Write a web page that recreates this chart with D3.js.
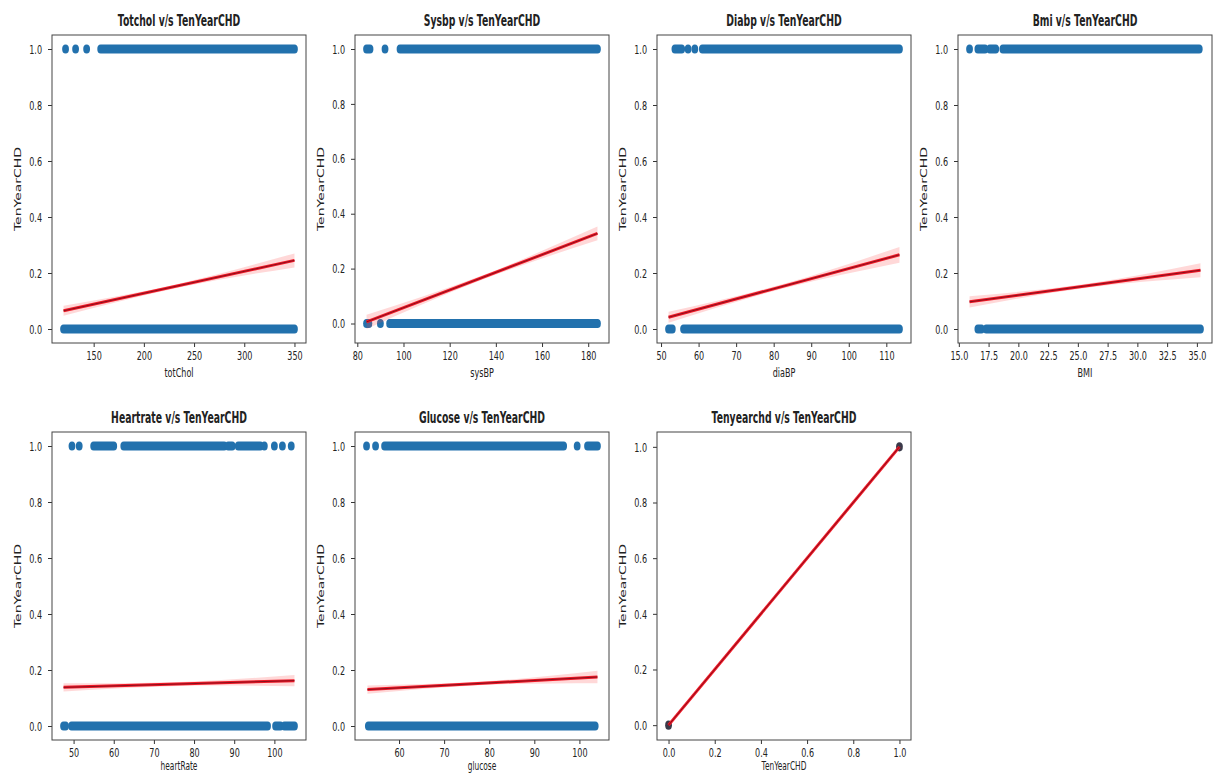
<!DOCTYPE html>
<html>
<head>
<meta charset="utf-8">
<script src="https://cdn.jsdelivr.net/npm/d3@7"></script>
<style>
  body { margin: 0; background: #fff; }
  text { font-family: "DejaVu Sans", sans-serif; fill: #222; }
</style>
</head>
<body>
<svg id="chart" width="1219" height="774"></svg>
<script>
// ---- data ----
const panelTitles = ["Totchol v/s TenYearCHD", "Sysbp v/s TenYearCHD", "Diabp v/s TenYearCHD", "Bmi v/s TenYearCHD",
                     "Heartrate v/s TenYearCHD", "Glucose v/s TenYearCHD", "Tenyearchd v/s TenYearCHD"];
const xLabels = ["totChol", "sysBP", "diaBP", "BMI", "heartRate", "glucose", "TenYearCHD"];
const yLabel = "TenYearCHD";

// x ticks per panel
const xTicks = [
  [150, 200, 250, 300, 350],
  [80, 100, 120, 140, 160, 180],
  [50, 60, 70, 80, 90, 100, 110],
  [15, 17.5, 20, 22.5, 25, 27.5, 30, 32.5, 35],
  [50, 60, 70, 80, 90, 100],
  [60, 70, 80, 90, 100],
  [0, 0.2, 0.4, 0.6, 0.8, 1.0]
];
const xTickFmt = [",d", ",d", ",d", ".1f", ",d", ",d", ".1f"];
const yTicks = [0, 0.2, 0.4, 0.6, 0.8, 1.0];

// point clusters [from, to] at TenYearCHD = 1 and = 0 (single points have from == to)
const ones = [
  [[122, 122], [132, 132], [143, 143], [157, 350]],
  [[84, 85.5], [92, 92], [98.5, 184]],
  [[53.7, 55.5], [57.2, 57.2], [59, 59], [61, 113.5]],
  [[15.9, 15.9], [16.6, 17.2], [17.6, 18.1], [18.7, 35.2]],
  [[49.6, 49.6], [51.4, 51.4], [55, 60], [62.5, 87.5], [88.5, 89.5], [91, 96.5], [97.5, 97.5], [100, 100], [102, 102], [104.2, 104.2]],
  [[52.8, 52.8], [54.8, 54.8], [56.8, 96.5], [99.5, 99.5], [101.8, 104]],
  [[1, 1]]
];
const zeros = [
  [[120, 350]],
  [[84, 85], [90, 90], [94, 184]],
  [[52, 53], [56, 113.5]],
  [[16.6, 16.9], [17.3, 35.3]],
  [[47.5, 48], [49.5, 98.3], [100.3, 101.5], [102.5, 105]],
  [[53.2, 103.5]],
  [[0, 0]]
];

// fitted line [x0, y0, x1, y1]
const regLines = [
  [120, 0.065, 350, 0.245],
  [84, 0.006, 184, 0.328],
  [52, 0.042, 113.5, 0.265],
  [15.9, 0.097, 35.3, 0.21],
  [47.5, 0.138, 105, 0.162],
  [53, 0.13, 104, 0.175],
  [0, 0, 1, 1]
];
// confidence band half-width at left, middle, right
const ciHalf = [
  [0.018, 0.007, 0.025],
  [0.026, 0.008, 0.025],
  [0.02, 0.008, 0.028],
  [0.02, 0.007, 0.025],
  [0.015, 0.007, 0.02],
  [0.015, 0.006, 0.022],
  [0.003, 0.002, 0.003]
];

// ---- layout ----
const svg = d3.select("#chart");
const colX = [52, 355, 657, 958];
const rowY = [35, 432];
const boxW = 254, boxH = 308;
const sx = 0.62;        // glyphs in the picture are squeezed sideways
const r = 4.6, rxPt = 3.4;

function pad(ext) {
  let span = ext[1] - ext[0];
  return [ext[0] - span * 0.05, ext[1] + span * 0.05];
}

panelTitles.forEach((title, i) => {
  let col = i % 4, row = Math.floor(i / 4);
  let g = svg.append("g").attr("transform", "translate(" + colX[col] + "," + rowY[row] + ")");

  let allX = ones[i].concat(zeros[i]).flat();
  let xScale = d3.scaleLinear().domain(pad(d3.extent(allX))).range([0, boxW]);

  let L = regLines[i], h = ciHalf[i];
  let xm = (L[0] + L[2]) / 2, ym = (L[1] + L[3]) / 2;
  let band = [
    {x: L[0], lo: L[1] - h[0], hi: L[1] + h[0]},
    {x: xm, lo: ym - h[1], hi: ym + h[1]},
    {x: L[2], lo: L[3] - h[2], hi: L[3] + h[2]}
  ];
  let yExt = [Math.min(0, d3.min(band, d => d.lo)), Math.max(1, d3.max(band, d => d.hi))];
  let yScale = d3.scaleLinear().domain(pad(yExt)).range([boxH, 0]);

  // points
  let ptColor = i === 6 ? "#3a3a4a" : "#2271ad";
  let strips = ones[i].map(c => ({c: c, y: 1})).concat(zeros[i].map(c => ({c: c, y: 0})));
  g.selectAll(".pt").data(strips).enter().append("rect")
    .attr("class", "pt")
    .attr("x", d => xScale(d.c[0]) - rxPt)
    .attr("width", d => xScale(d.c[1]) - xScale(d.c[0]) + 2 * rxPt)
    .attr("y", d => yScale(d.y) - r)
    .attr("height", 2 * r)
    .attr("rx", rxPt).attr("ry", r)
    .attr("fill", ptColor);

  // confidence band
  let area = d3.area().x(d => xScale(d.x)).y0(d => yScale(d.lo)).y1(d => yScale(d.hi)).curve(d3.curveNatural);
  g.append("path").datum(band).attr("d", area).attr("fill", "#ff3b3b").attr("opacity", 0.2);

  // fitted line
  let seg = [[L[0], L[1]], [L[2], L[3]]];
  let line = d3.line().x(d => xScale(d[0])).y(d => yScale(d[1]));
  g.append("path").datum(seg).attr("d", line).attr("stroke", "#f01826").attr("stroke-width", 3).attr("fill", "none");
  g.append("path").datum(seg).attr("d", line).attr("stroke", "#7a0f1c").attr("stroke-width", 0.9).attr("fill", "none");

  // axes
  let xAxis = d3.axisBottom(xScale).tickValues(xTicks[i]).tickFormat(d3.format(xTickFmt[i])).tickSize(4).tickSizeOuter(0).tickPadding(4);
  let gx = g.append("g").attr("transform", "translate(0," + boxH + ")").call(xAxis);
  gx.select(".domain").remove();
  gx.selectAll("line").attr("stroke", "#333");
  gx.selectAll("text").attr("transform", "scale(" + sx + ",1)")
    .style("font-size", "13px").style("font-family", "DejaVu Sans").attr("fill", "#222");

  let yAxis = d3.axisLeft(yScale).tickValues(yTicks).tickFormat(d3.format(".1f")).tickSize(4).tickSizeOuter(0);
  let gy = g.append("g").call(yAxis);
  gy.select(".domain").remove();
  gy.selectAll("line").attr("stroke", "#333");
  gy.selectAll("text").attr("transform", "scale(" + sx + ",1)").attr("x", -10 / sx)
    .style("font-size", "13px").style("font-family", "DejaVu Sans").attr("fill", "#222");

  // frame
  g.append("rect").attr("width", boxW).attr("height", boxH).attr("fill", "none").attr("stroke", "#444").attr("stroke-width", 1);

  // title
  g.append("text").attr("transform", "translate(" + boxW / 2 + ",-9) scale(" + sx + ",1)")
    .attr("text-anchor", "middle").style("font-size", "15px").style("font-weight", "bold").attr("fill", "#111").text(title);

  // axis labels (bottom row sits right at the lower edge, as in the picture)
  let xlabY = row === 0 ? boxH + 34 : boxH + 30;
  g.append("text").attr("transform", "translate(" + boxW / 2 + "," + xlabY + ") scale(" + sx + ",1)")
    .attr("text-anchor", "middle").style("font-size", row === 0 ? "13px" : "12px").text(xLabels[i]);
  g.append("text").attr("transform", "translate(-31," + boxH / 2 + ") scale(" + sx + ",1) rotate(-90)")
    .attr("text-anchor", "middle").style("font-size", "14px").text(yLabel);
});
</script>
</body>
</html>
